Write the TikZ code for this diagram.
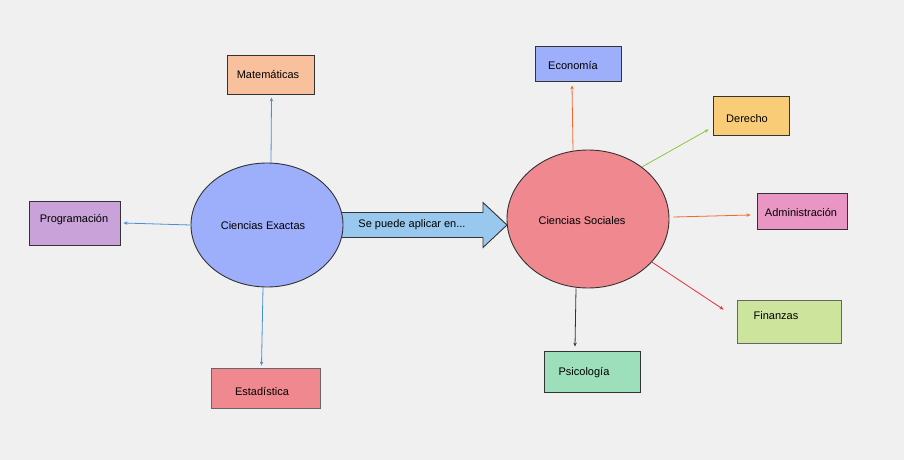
\documentclass[tikz,border=0pt]{standalone}
\usepackage{fontspec}
\setmainfont{Liberation Sans}
\usetikzlibrary{shapes.geometric,arrows.meta,calc}
\definecolor{bgc}{HTML}{F0F0F0}
\definecolor{cblue}{HTML}{9DAEFA}
\definecolor{cred}{HTML}{F0888F}
\definecolor{cpeach}{HTML}{F9C09E}
\definecolor{cyellow}{HTML}{F9CD78}
\definecolor{cpink}{HTML}{E996C5}
\definecolor{clgreen}{HTML}{CDE49D}
\definecolor{cmint}{HTML}{9DDFBA}
\definecolor{clilac}{HTML}{C8A2D8}
\definecolor{carrow}{HTML}{99C8EE}
\definecolor{lblue}{HTML}{4A8FD8}
\definecolor{lorange}{HTML}{F06A30}
\definecolor{lgreen}{HTML}{8CC63F}
\definecolor{lred}{HTML}{E8303A}
\definecolor{lgray}{HTML}{333333}
\tikzset{
  bubble/.style={ellipse, draw=lgray, line width=0.9pt, inner sep=0pt},
  topic/.style={rectangle, draw=lgray, line width=0.9pt, inner sep=0pt},
  lbl/.style={font=\fontsize{11}{13}\selectfont, text=black, inner sep=0pt},
  link/.style={line width=0.8pt, -{Stealth[length=4pt,width=3.5pt]}},
}
\begin{document}
\begin{tikzpicture}[x=1pt,y=-1pt]
\fill[bgc] (0,0) rectangle (904,460);
\useasboundingbox (0,0) rectangle (904,460);

% boxes
\node[topic, fill=cpeach, minimum width=87pt, minimum height=39pt] (mat) at (270.5,74.5) {};
\node[lbl] at (268,75) {Matemáticas};
\node[topic, fill=clilac, minimum width=91pt, minimum height=44pt] (prog) at (74.5,223) {};
\node[lbl] at (74,220) {Programación};
\node[topic, fill=cred, minimum width=109pt, minimum height=40pt, draw=gray!80!black] (est) at (265.5,388) {};
\node[lbl] at (262,391) {Estadística};
\node[topic, fill=cblue, minimum width=86pt, minimum height=35pt] (eco) at (578,63.5) {};
\node[lbl] at (573,66) {Economía};
\node[topic, fill=cyellow, minimum width=76pt, minimum height=39pt] (der) at (751,115.5) {};
\node[lbl] at (747,119) {Derecho};
\node[topic, fill=cpink, minimum width=90pt, minimum height=36pt] (adm) at (802,211) {};
\node[lbl] at (801,213) {Administración};
\node[topic, fill=clgreen, minimum width=104pt, minimum height=43pt, draw=gray!80!black] (fin) at (789,321.5) {};
\node[lbl] at (776,316) {Finanzas};
\node[topic, fill=cmint, minimum width=96pt, minimum height=41pt] (psi) at (592,371.5) {};
\node[lbl] at (584,373) {Psicología};

% big arrow
\coordinate (ae) at (343,225);
\fill[carrow, draw=lgray, line width=0.9pt]
  ($(ae)+(-4,-12.5)$) -- ($(ae)+(140,-12.5)$) -- ($(ae)+(140,-22.5)$) --
  ($(ae)+(164,0)$) -- ($(ae)+(140,22.5)$) -- ($(ae)+(140,12.5)$) --
  ($(ae)+(-4,12.5)$) -- cycle;
\node[lbl] (apl) at (412,225) {Se puede aplicar en...};

% ellipses
\node[bubble, fill=cblue, minimum width=152pt, minimum height=124pt] (ce) at (267,225) {};
\node[lbl] at (263,226) {Ciencias Exactas};
\node[bubble, fill=cred, minimum width=162pt, minimum height=138pt] (cs) at (588,219) {};
\node[lbl] at (582,221) {Ciencias Sociales};

% connectors
\draw[link, lblue] (ce.north) ++(4,0) -- ($(mat.south)+(1,3)$);
\draw[link, lblue] (ce.west) -- ($(prog.east)+(3,0)$);
\draw[link, lblue] ($(ce.south)+(-4,0)$) -- ($(est.north)+(-4,-2)$);
\draw[link, lorange] ($(cs.north)+(-15,1)$) -- ($(eco.south)+(-6,4)$);
\draw[link, lgreen] (cs.44) -- ($(der.south west)+(-4,-6)$);
\draw[link, lorange] ($(cs.east)+(4,-2)$) -- ($(adm.west)+(-6,4)$);
\draw[link, lred] (cs.-34) -- ($(fin.north west)+(-13,10)$);
\draw[link, lgray] ($(cs.south)+(-12,0)$) -- ($(psi.north)+(-17,-4)$);
\end{tikzpicture}
\end{document}
